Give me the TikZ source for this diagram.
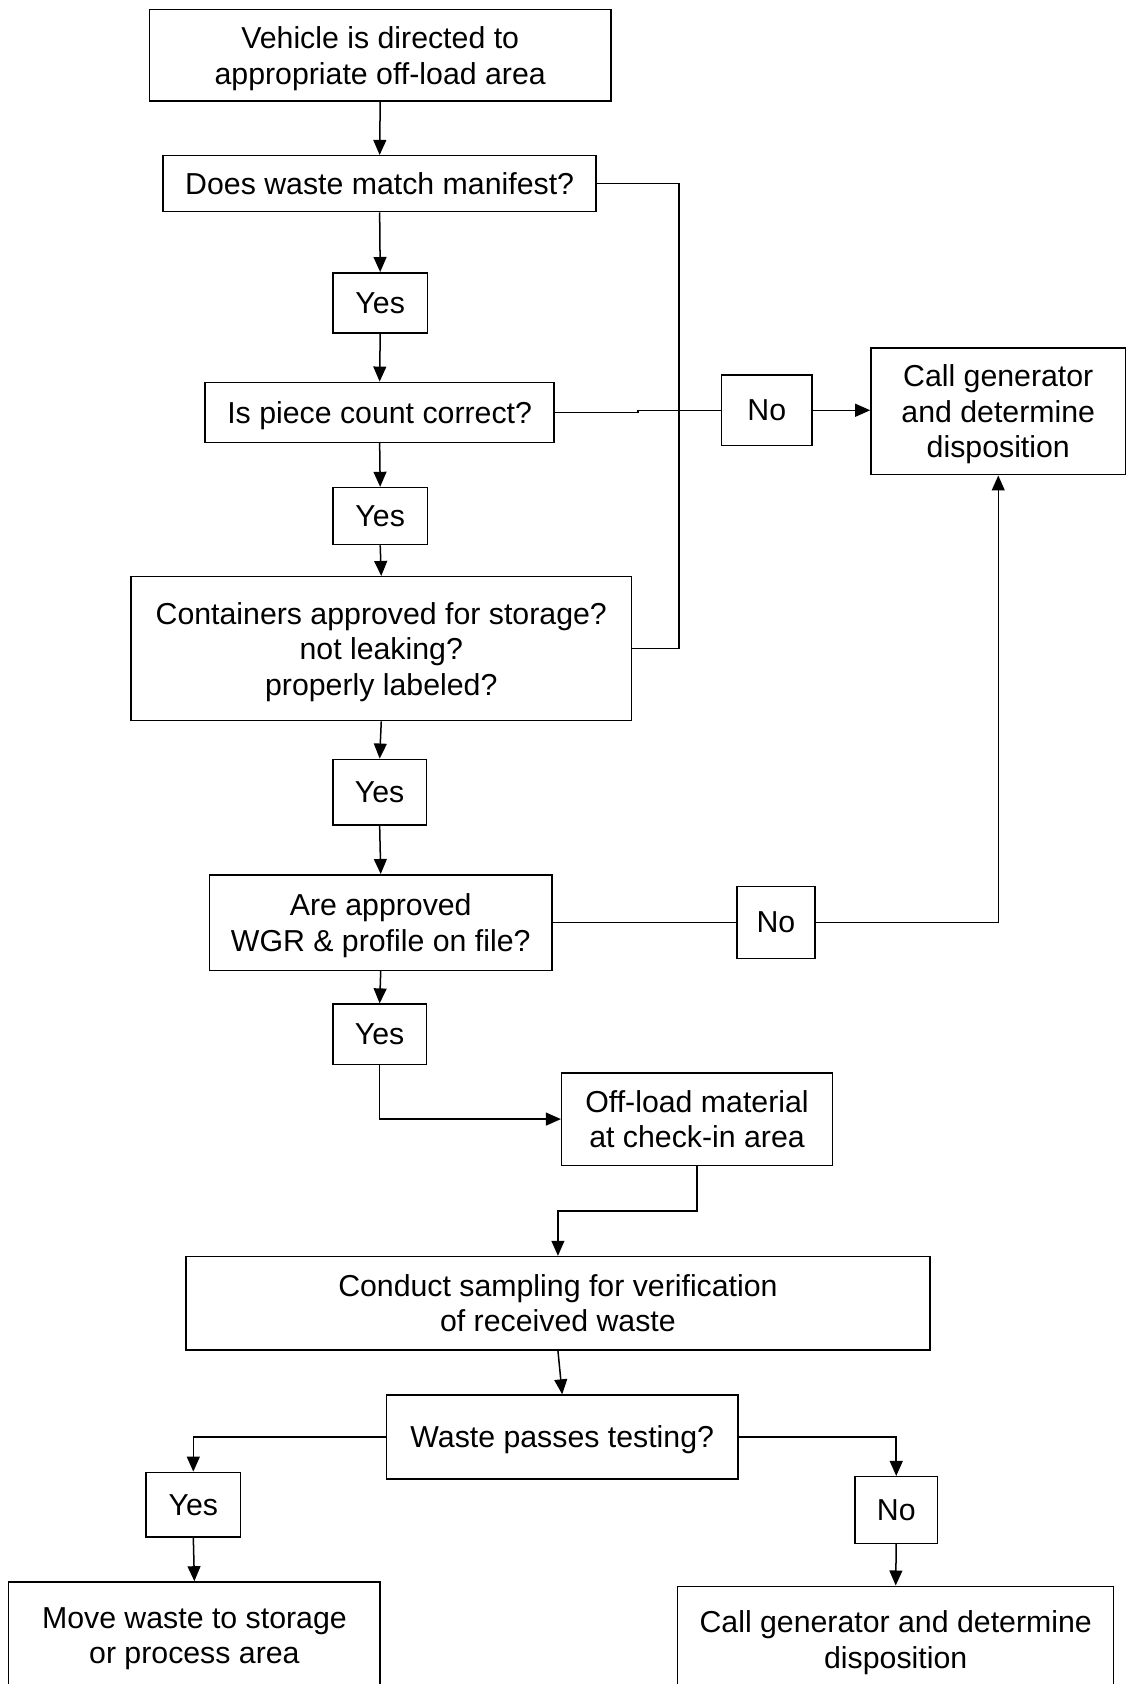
\documentclass[tikz,border=0pt]{standalone}
\usepackage{fontspec}
\setmainfont{Liberation Sans}
\usetikzlibrary{arrows.meta}
\begin{document}
\begin{tikzpicture}[x=1pt,y=-1pt,
  box/.style={draw, line width=1.4pt, inner sep=0pt, align=center, text depth=0pt,
    font=\fontsize{28.2}{33}\selectfont},
  conn/.style={line width=1.4pt},
  arr/.style={conn, -{Triangle[length=14pt,width=12pt]}}]
\useasboundingbox (0,0) rectangle (1049,1568);
\node[box, minimum width=430pt, minimum height=85pt] (v) at (354,51.5) {Vehicle is directed to\\appropriate off-load area};
\node[box, minimum width=403pt, minimum height=52pt] (m) at (353.5,171) {Does waste match manifest?};
\node[box, minimum width=88pt, minimum height=56pt] (y1) at (354,282) {Yes};
\node[box, minimum width=325pt, minimum height=56pt] (p) at (353.5,384) {Is piece count correct?};
\node[box, minimum width=84pt, minimum height=66pt] (n1) at (714,382) {No};
\node[box, minimum width=237pt, minimum height=118pt] (g) at (929.5,383) {Call generator\\and determine\\disposition};
\node[box, minimum width=88pt, minimum height=53pt] (y2) at (354,480.5) {Yes};
\node[box, minimum width=466pt, minimum height=134pt] (c) at (355,604) {Containers approved for storage?\\not leaking?\\properly labeled?};
\node[box, minimum width=87pt, minimum height=61pt] (y3) at (353.5,737.5) {Yes};
\node[box, minimum width=319pt, minimum height=89pt] (w) at (354.5,859) {Are approved\\WGR \& profile on file?};
\node[box, minimum width=73pt, minimum height=67pt] (n2) at (722.5,859) {No};
\node[box, minimum width=87pt, minimum height=56pt] (y4) at (353.5,963) {Yes};
\node[box, minimum width=252pt, minimum height=86pt] (o) at (649,1042) {Off-load material\\at check-in area};
\node[box, minimum width=693pt, minimum height=87pt] (s) at (519.5,1213.5) {Conduct sampling for verification\\of received waste};
\node[box, minimum width=327pt, minimum height=78pt] (t) at (523.5,1338) {Waste passes testing?};
\node[box, minimum width=88pt, minimum height=60pt] (y5) at (180,1401) {Yes};
\node[box, minimum width=77pt, minimum height=62pt] (n3) at (834.5,1406) {No};
\node[box, minimum width=346pt, minimum height=100pt] (mv) at (181,1523) {Move waste to storage\\or process area};
\node[box, minimum width=406pt, minimum height=99pt] (g2) at (834,1526.5) {Call generator and determine\\disposition};

\draw[arr] (v.south) -- (m.north);
\draw[arr] (m.south) -- (y1.north);
\draw[arr] (y1.south) -- (p.north);
\draw[conn] (m.east) -- (632,171) -- (632,604) -- (c.east);
\draw[conn] (p.east) -- (594,384) -- (594,382) -- (n1.west);
\draw[arr] (n1.east) -- (g.west |- n1.east);
\draw[arr] (p.south) -- (y2.north);
\draw[arr] (y2.south) -- (c.north);
\draw[arr] (c.south) -- (y3.north);
\draw[arr] (y3.south) -- (w.north);
\draw[conn] (w.east) -- (n2.west);
\draw[arr] (n2.east) -| (g.south);
\draw[arr] (w.south) -- (y4.north);
\draw[arr] (y4.south) |- (o.west);
\draw[arr] (o.south) -- ++(0,42) -| (s.north);
\draw[arr] (s.south) -- (t.north);
\draw[arr] (t.west) -| (y5.north);
\draw[arr] (y5.south) -- (mv.north);
\draw[arr] (t.east) -| (n3.north);
\draw[arr] (n3.south) -- (g2.north);
\end{tikzpicture}
\end{document}
